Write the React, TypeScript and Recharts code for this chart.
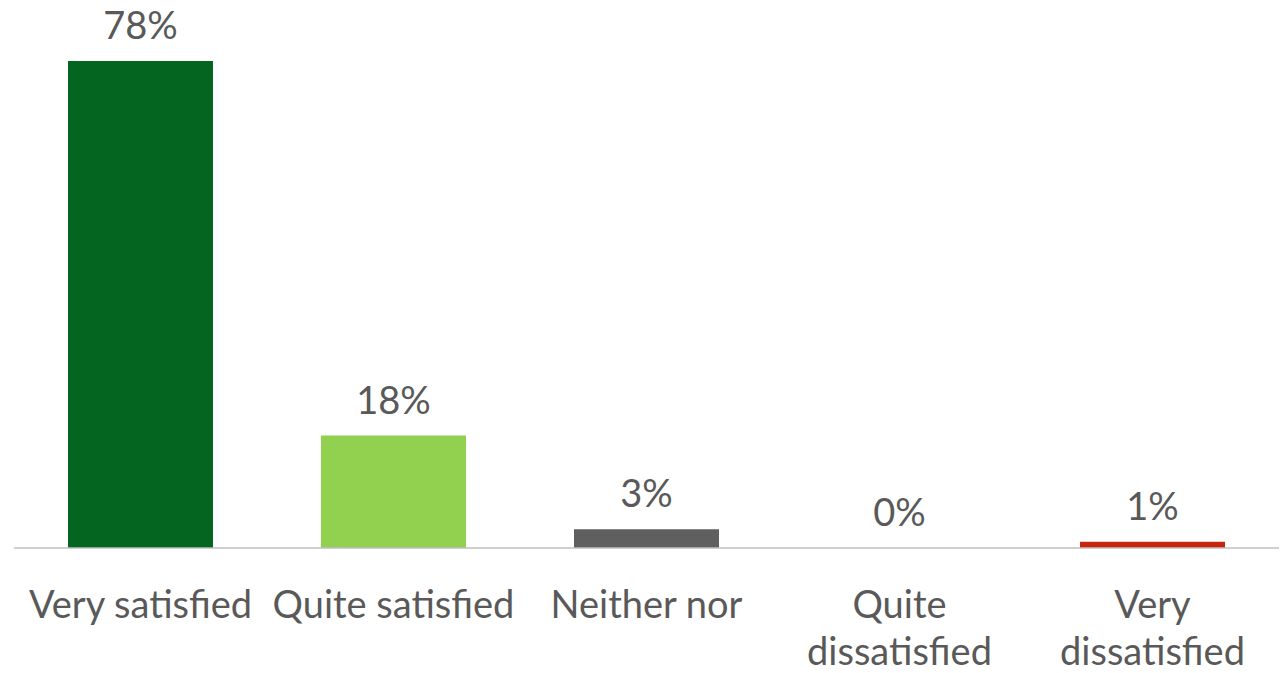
import React from 'react';
import { BarChart, Bar, XAxis, YAxis, Cell, LabelList } from 'recharts';

const categories = ['Very satisfied', 'Quite satisfied', 'Neither nor', 'Quite\ndissatisfied', 'Very\ndissatisfied'];
const shares = [78, 18, 3, 0, 1];
const barColors = ['#03651f', '#92d050', '#5f5f5f', '#5f5f5f', '#c8250d'];

const data = categories.map((name, i) => ({ name, value: shares[i] }));

const FONT = 'Lato, "Open Sans", sans-serif';
const TEXT = '#595959';

function CategoryTick(props: any) {
  const { x, y, payload } = props;
  const lines = String(payload.value).split('\n');
  return (
    <text x={x} y={y} textAnchor="middle" fill={TEXT} fontSize={38} fontFamily={FONT}>
      {lines.map((line, i) => (
        <tspan key={i} x={x} dy={i === 0 ? 70 : 47}>
          {line}
        </tspan>
      ))}
    </text>
  );
}

function ValueLabel(props: any) {
  const { x, y, width, value } = props;
  return (
    <text x={x + width / 2} y={y - 22} textAnchor="middle" fill={TEXT} fontSize={38} fontFamily={FONT}>
      {`${value}%`}
    </text>
  );
}

export default function App() {
  return (
    <div style={{ position: 'absolute', left: 0, top: 0, width: 1286, height: 673, background: '#fff' }}>
      <BarChart
        width={1286}
        height={673}
        data={data}
        margin={{ top: 48.5, right: 7, left: 14, bottom: 0 }}
        barSize={145}
      >
        <YAxis hide domain={[0, 80]} />
        <XAxis
          dataKey="name"
          height={125}
          axisLine={{ stroke: '#bfbfbf', strokeWidth: 1.5 }}
          tickLine={false}
          tickSize={0}
          tickMargin={0}
          interval={0}
          tick={<CategoryTick />}
        />
        <Bar dataKey="value" isAnimationActive={false} minPointSize={0.01}>
          {data.map((d, i) => (
            <Cell key={d.name} fill={barColors[i]} />
          ))}
          <LabelList dataKey="value" content={<ValueLabel />} />
        </Bar>
      </BarChart>
    </div>
  );
}
